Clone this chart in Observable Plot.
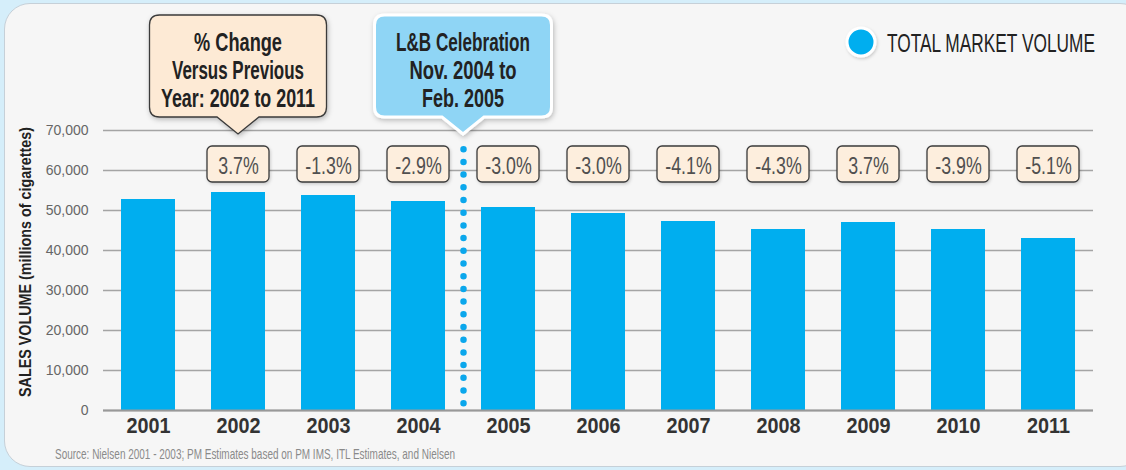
<!DOCTYPE html>
<html><head><meta charset="utf-8">
<script src="https://cdn.jsdelivr.net/npm/d3@7"></script>
<script src="https://cdn.jsdelivr.net/npm/@observablehq/plot@0.6"></script>
<style>
html,body{margin:0;padding:0;width:1126px;height:470px;overflow:hidden;background:#d5eefa;}
#panel{position:absolute;left:4px;top:3px;width:1140px;height:462px;background:#f6f6f6;border:1px solid #c6d0d8;border-radius:26px;}
#chart{position:absolute;left:0;top:0;}
</style></head><body>
<div id="panel"></div><div id="chart"></div>
<script>
// ---- data ----
const years = ["2001","2002","2003","2004","2005","2006","2007","2008","2009","2010","2011"];
const volumes = [52750, 54500, 53750, 52250, 50750, 49250, 47250, 45250, 47000, 45250, 43000];
const pctChange = [null, "3.7%", "-1.3%", "-2.9%", "-3.0%", "-3.0%", "-4.1%", "-4.3%", "3.7%", "-3.9%", "-5.1%"];
const yTicks = [0, 10000, 20000, 30000, 40000, 50000, 60000, 70000];
const eventAfterYear = "2004";          // L&B Celebration between 2004 and 2005
const eventSpan = [1700, 65300];
const legendLabel = "TOTAL MARKET VOLUME";
const yLabel = "SALES VOLUME (millions of cigarettes)";
const sourceText = "Source: Nielsen 2001 - 2003; PM Estimates based on PM IMS, ITL Estimates, and Nielsen";
const pctCalloutLines = ["% Change", "Versus Previous", "Year: 2002 to 2011"];
const eventCalloutLines = ["L&B Celebration", "Nov. 2004 to", "Feb. 2005"];

const data = years.map((year, i) => ({year, volume: volumes[i], pct: pctChange[i]}));
const pctData = data.filter(d => d.pct);
const fmt = d3.format(",");
const narrow = "'Liberation Sans Narrow','Liberation Sans',Arial,sans-serif";

const chart = Plot.plot({
  width: 1126, height: 470,
  marginLeft: 103, marginRight: 33, marginTop: 130, marginBottom: 60,
  style: {background: "transparent", fontFamily: "'Liberation Sans',Arial,sans-serif", overflow: "visible"},
  x: {domain: years, paddingInner: 0.4, paddingOuter: 0.2, axis: null},
  y: {domain: [0, 70000], axis: null},
  marks: [
    Plot.ruleY(yTicks, {stroke: "#a4a4a4", strokeWidth: 1.5}),
    Plot.barY(data, {x: "year", y: "volume", fill: "#00aeef"}),
    Plot.ruleY([0], {stroke: "#999", strokeWidth: 2}),
    Plot.ruleX([eventAfterYear], {dx: 45, y1: eventSpan[0], y2: eventSpan[1], stroke: "#0ba7ec", strokeWidth: 6.5, strokeDasharray: "0 12.7", strokeLinecap: "round"}),
    Plot.barY(pctData, {x: "year", y1: 57000, y2: 66000, fill: "#fdeedd", stroke: "#3b3b3b", strokeWidth: 1.3, rx: 5, insetLeft: -4, insetRight: -4, ariaLabel: () => "pct-box"}),
    Plot.text(pctData, {x: "year", y: 61100, text: "pct", fontSize: 24, fill: "#505050", fontFamily: narrow, ariaLabel: () => "pct-text"}),
    Plot.text(years, {x: d => d, frameAnchor: "bottom", dy: 22, fontSize: 22, fontWeight: "bold", fill: "#333", ariaLabel: () => "year-text"}),
    Plot.text(yTicks, {y: d => d, frameAnchor: "left", dx: -15, textAnchor: "end", text: d => fmt(d), fontSize: 14, fill: "#666"})
  ]
});
document.getElementById("chart").append(chart);

// condense text horizontally (no condensed web fonts available)
function condense(sel, k) {
  sel.each(function() {
    const w = this.getComputedTextLength();
    if (w > 0) d3.select(this).attr("textLength", w * k).attr("lengthAdjust", "spacingAndGlyphs");
  });
}
condense(d3.select(chart).selectAll('text[aria-label="pct-text"]'), 0.74);
condense(d3.select(chart).selectAll('text[aria-label="year-text"]'), 0.9);

// ---- annotations using Plot's scales ----
const xs = chart.scale("x"), ys = chart.scale("y");
const xb = d3.scaleBand().domain(xs.domain).range(xs.range)
  .paddingInner(xs.paddingInner ?? 0.4).paddingOuter(xs.paddingOuter ?? 0.2).align(xs.align ?? 0.5);
const bw = xs.bandwidth ?? xb.bandwidth();
const step = xs.step ?? xb.step();
const xCenter = v => (xs.apply ? xs.apply(v) : xb(v)) + bw / 2;
const yl = d3.scaleLinear().domain(ys.domain).range(ys.range);
const yPos = v => ys.apply ? ys.apply(v) : yl(v);

const svg = d3.select(chart);
const defs = svg.insert("defs", ":first-child");
const f = defs.append("filter").attr("id", "shadow").attr("x", "-20%").attr("y", "-20%").attr("width", "140%").attr("height", "150%");
f.append("feDropShadow").attr("dx", 1).attr("dy", 2).attr("stdDeviation", 2.5).attr("flood-color", "#000").attr("flood-opacity", 0.25);
const f2 = defs.append("filter").attr("id", "shadow2").attr("x", "-20%").attr("y", "-20%").attr("width", "140%").attr("height", "150%");
f2.append("feDropShadow").attr("dx", 1).attr("dy", 1.5).attr("stdDeviation", 1.5).attr("flood-color", "#000").attr("flood-opacity", 0.18);
svg.selectAll('rect[aria-label="pct-box"]').attr("filter", "url(#shadow2)");

const callouts = [
  {lines: pctCalloutLines, x: xCenter("2002"), tip: 69000, fill: "#fdead5", stroke: "#3a3a3a", sw: 1.3, widths: [88, 132, 154]},
  {lines: eventCalloutLines, x: xCenter(eventAfterYear) + step / 2, tip: 69000, fill: "#8fd5f5", stroke: "#ffffff", sw: 3, widths: [134, 107, 82]}
];
for (const c of callouts) {
  const cx = c.x, ty = yPos(c.tip);
  const x0 = cx - 88.5, x1 = cx + 88.5, y1 = ty - 17, y0 = y1 - 102, r = 10;
  const p = `M${x0+r},${y0}H${x1-r}Q${x1},${y0} ${x1},${y0+r}V${y1-r}Q${x1},${y1} ${x1-r},${y1}H${cx+21}L${cx},${ty}L${cx-21},${y1}H${x0+r}Q${x0},${y1} ${x0},${y1-r}V${y0+r}Q${x0},${y0} ${x0+r},${y0}Z`;
  svg.append("path").attr("d", p).attr("fill", c.fill).attr("stroke", c.stroke).attr("stroke-width", c.sw).attr("filter", "url(#shadow)");
  c.lines.forEach((t, i) => {
    svg.append("text").attr("x", cx).attr("y", y0 + 36 + i * 28)
      .attr("text-anchor", "middle").attr("font-family", narrow).attr("font-weight", "bold")
      .attr("font-size", 26.5).attr("fill", "#222")
      .attr("textLength", c.widths[i]).attr("lengthAdjust", "spacingAndGlyphs").text(t);
  });
}

// legend (text squeezed with a transform so its box matches the drawn width)
svg.append("circle").attr("cx", 861).attr("cy", 42).attr("r", 14).attr("fill", "#00aeef")
  .attr("stroke", "#fff").attr("stroke-width", 3).attr("filter", "url(#shadow2)");
const lt = svg.append("text").attr("x", 0).attr("y", 0).attr("text-anchor", "start").attr("font-family", narrow).attr("font-size", 26)
  .attr("fill", "#222").text(legendLabel);
const lw = lt.node().getComputedTextLength() || 316;
lt.attr("transform", `translate(887,52) scale(${208 / lw},1)`);

// y label
svg.append("text").attr("transform", "translate(31,262) rotate(-90)").attr("text-anchor", "middle")
  .attr("font-family", narrow).attr("font-weight", "bold").attr("font-size", 17).attr("fill", "#222")
  .attr("textLength", 270).attr("lengthAdjust", "spacingAndGlyphs").text(yLabel);

// source
svg.append("text").attr("x", 55).attr("y", 459).attr("text-anchor", "start").attr("font-family", narrow).attr("font-size", 15)
  .attr("fill", "#8a8a8a").attr("textLength", 400).attr("lengthAdjust", "spacingAndGlyphs").text(sourceText);
</script>
</body></html>
